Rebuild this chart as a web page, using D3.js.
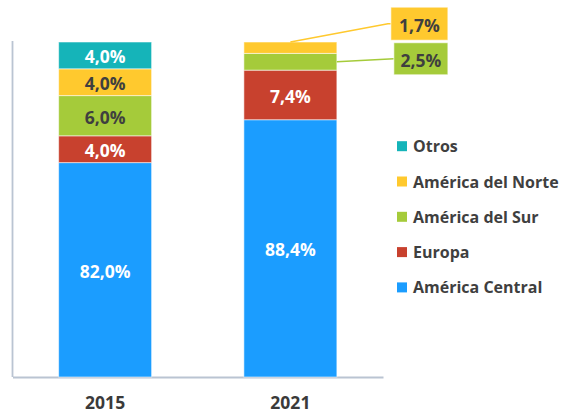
<!DOCTYPE html>
<html>
<head>
<meta charset="utf-8">
<script src="https://cdn.jsdelivr.net/npm/d3@7"></script>
<style>
  html, body { margin: 0; padding: 0; background: #fff; }
  svg { display: block; font-family: "Open Sans", "DejaVu Sans", sans-serif; font-weight: 700; }
</style>
</head>
<body>
<svg id="chart" width="563" height="416"></svg>
<script>
// Share of exports by destination region (%), stacked bottom to top
const years = ["2015", "2021"];
const regions = ["América Central", "Europa", "América del Sur", "América del Norte", "Otros"];
const values2015 = [82.0, 4.0, 6.0, 4.0, 4.0];
const values2021 = [88.4, 7.4, 2.5, 1.7, 0.0];
const colors = ["#1B9DFF", "#C8412E", "#A5CB3A", "#FFC92E", "#15B4B9"];
const labelColors = ["#ffffff", "#ffffff", "#3f3f3f", "#3f3f3f", "#ffffff"];
// Legend lists the series top-down, as stacked
const legendOrder = ["Otros", "América del Norte", "América del Sur", "Europa", "América Central"];
// Small 2021 segments are labelled with callouts to the right of the bar
const callouts = [
  { year: "2021", region: "América del Norte", dx: 54, dy: -24, w: 57, h: 33 },
  { year: "2021", region: "América del Sur", dx: 57, dy: -3, w: 54, h: 32 }
];

const fmt = v => v.toFixed(1).replace(".", ",") + "%";

const svg = d3.select("#chart");

const x = d3.scaleBand().domain(years).range([12.5, 383]).paddingInner(0.498).paddingOuter(0.249);
const y = d3.scaleLinear().domain([50, 100]).range([377, 42]);

const table = years.map((yr, i) => {
  const vals = i === 0 ? values2015 : values2021;
  const row = { year: yr };
  regions.forEach((r, j) => row[r] = vals[j]);
  return row;
});

const series = d3.stack().keys(regions)(table);

// Axes: plain lines, no ticks on the value axis
const yAxis = svg.append("g").attr("transform", "translate(12.5,0)")
  .call(d3.axisLeft(y).tickValues([]).tickSizeOuter(0));
yAxis.select(".domain").attr("stroke", "#BAC4D2").attr("stroke-width", 1.8)
  .attr("d", `M0,${y(100) - 1}V${y(50)}`);

const xAxis = svg.append("g").attr("transform", `translate(0,${y(50)})`)
  .call(d3.axisBottom(x).tickSize(0).tickPadding(20));
xAxis.select(".domain").attr("stroke", "#BAC4D2").attr("stroke-width", 1.8);
xAxis.selectAll("text")
  .attr("fill", "#3a3a3a").style("font-size", "17.5px").style("font-weight", 700)
  .style("font-family", "'Open Sans', sans-serif");

const clampLo = v => Math.max(v, y.domain()[0]);

const groups = svg.append("g").selectAll("g").data(series).join("g")
  .attr("fill", (d, i) => colors[i]);

groups.selectAll("rect").data(d => d.map(p => ({ p, key: d.key })))
  .join("rect")
  .attr("x", d => x(d.p.data.year))
  .attr("width", x.bandwidth())
  .attr("y", d => y(d.p[1]))
  .attr("height", d => Math.max(0, y(clampLo(d.p[0])) - y(d.p[1])))
  .attr("stroke", "#ffffff").attr("stroke-opacity", 0.55).attr("stroke-width", 1);

// Inside labels
const isCallout = (yr, key) => callouts.some(c => c.year === yr && c.region === key);
const inside = [];
series.forEach((s, i) => s.forEach(p => {
  const v = p[1] - p[0];
  if (v > 0 && !isCallout(p.data.year, s.key)) inside.push({ p, i, v });
}));
svg.append("g").selectAll("text").data(inside).join("text")
  .attr("x", d => x(d.p.data.year) + x.bandwidth() / 2)
  .attr("y", d => (y(clampLo(d.p[0])) + y(d.p[1])) / 2 + 1)
  .attr("text-anchor", "middle").attr("dominant-baseline", "central")
  .attr("fill", d => labelColors[d.i]).style("font-size", "17.5px")
  .text(d => fmt(d.v));

// Callout labels with leader lines
callouts.forEach(c => {
  const si = regions.indexOf(c.region);
  const p = series[si].find(q => q.data.year === c.year);
  const v = p[1] - p[0];
  const left = x(c.year) + x.bandwidth();
  const bx = left + c.dx;
  const cy = (y(p[0]) + y(p[1])) / 2 + c.dy;
  let path;
  if (c.dy < -10) {
    const sx = x(c.year) + x.bandwidth() / 2;
    path = `M${sx},${y(p[1])}L${bx - 3},${cy}H${bx}`;
  } else {
    path = `M${left},${(y(p[0]) + y(p[1])) / 2}L${bx},${cy}`;
  }
  svg.append("path").attr("d", path).attr("fill", "none")
    .attr("stroke", colors[si]).attr("stroke-width", 1.6);
  svg.append("rect").attr("x", bx).attr("y", cy - c.h / 2)
    .attr("width", c.w).attr("height", c.h)
    .attr("fill", colors[si]).attr("stroke", "#ffffff").attr("stroke-opacity", 0.6);
  svg.append("text").attr("x", bx + c.w / 2).attr("y", cy + 1)
    .attr("text-anchor", "middle").attr("dominant-baseline", "central")
    .attr("fill", labelColors[si]).style("font-size", "17.5px")
    .text(fmt(v));
});

// Legend
const legend = svg.append("g").selectAll("g").data(legendOrder).join("g")
  .attr("transform", (d, i) => `translate(397,${146.2 + i * 35.3})`);
legend.append("rect").attr("x", 0).attr("y", -5).attr("width", 10).attr("height", 10)
  .attr("fill", d => colors[regions.indexOf(d)]);
legend.append("text").attr("x", 16).attr("y", 0).attr("dominant-baseline", "central")
  .attr("fill", "#3f3f3f").style("font-size", "16px").text(d => d);
</script>
</body>
</html>
